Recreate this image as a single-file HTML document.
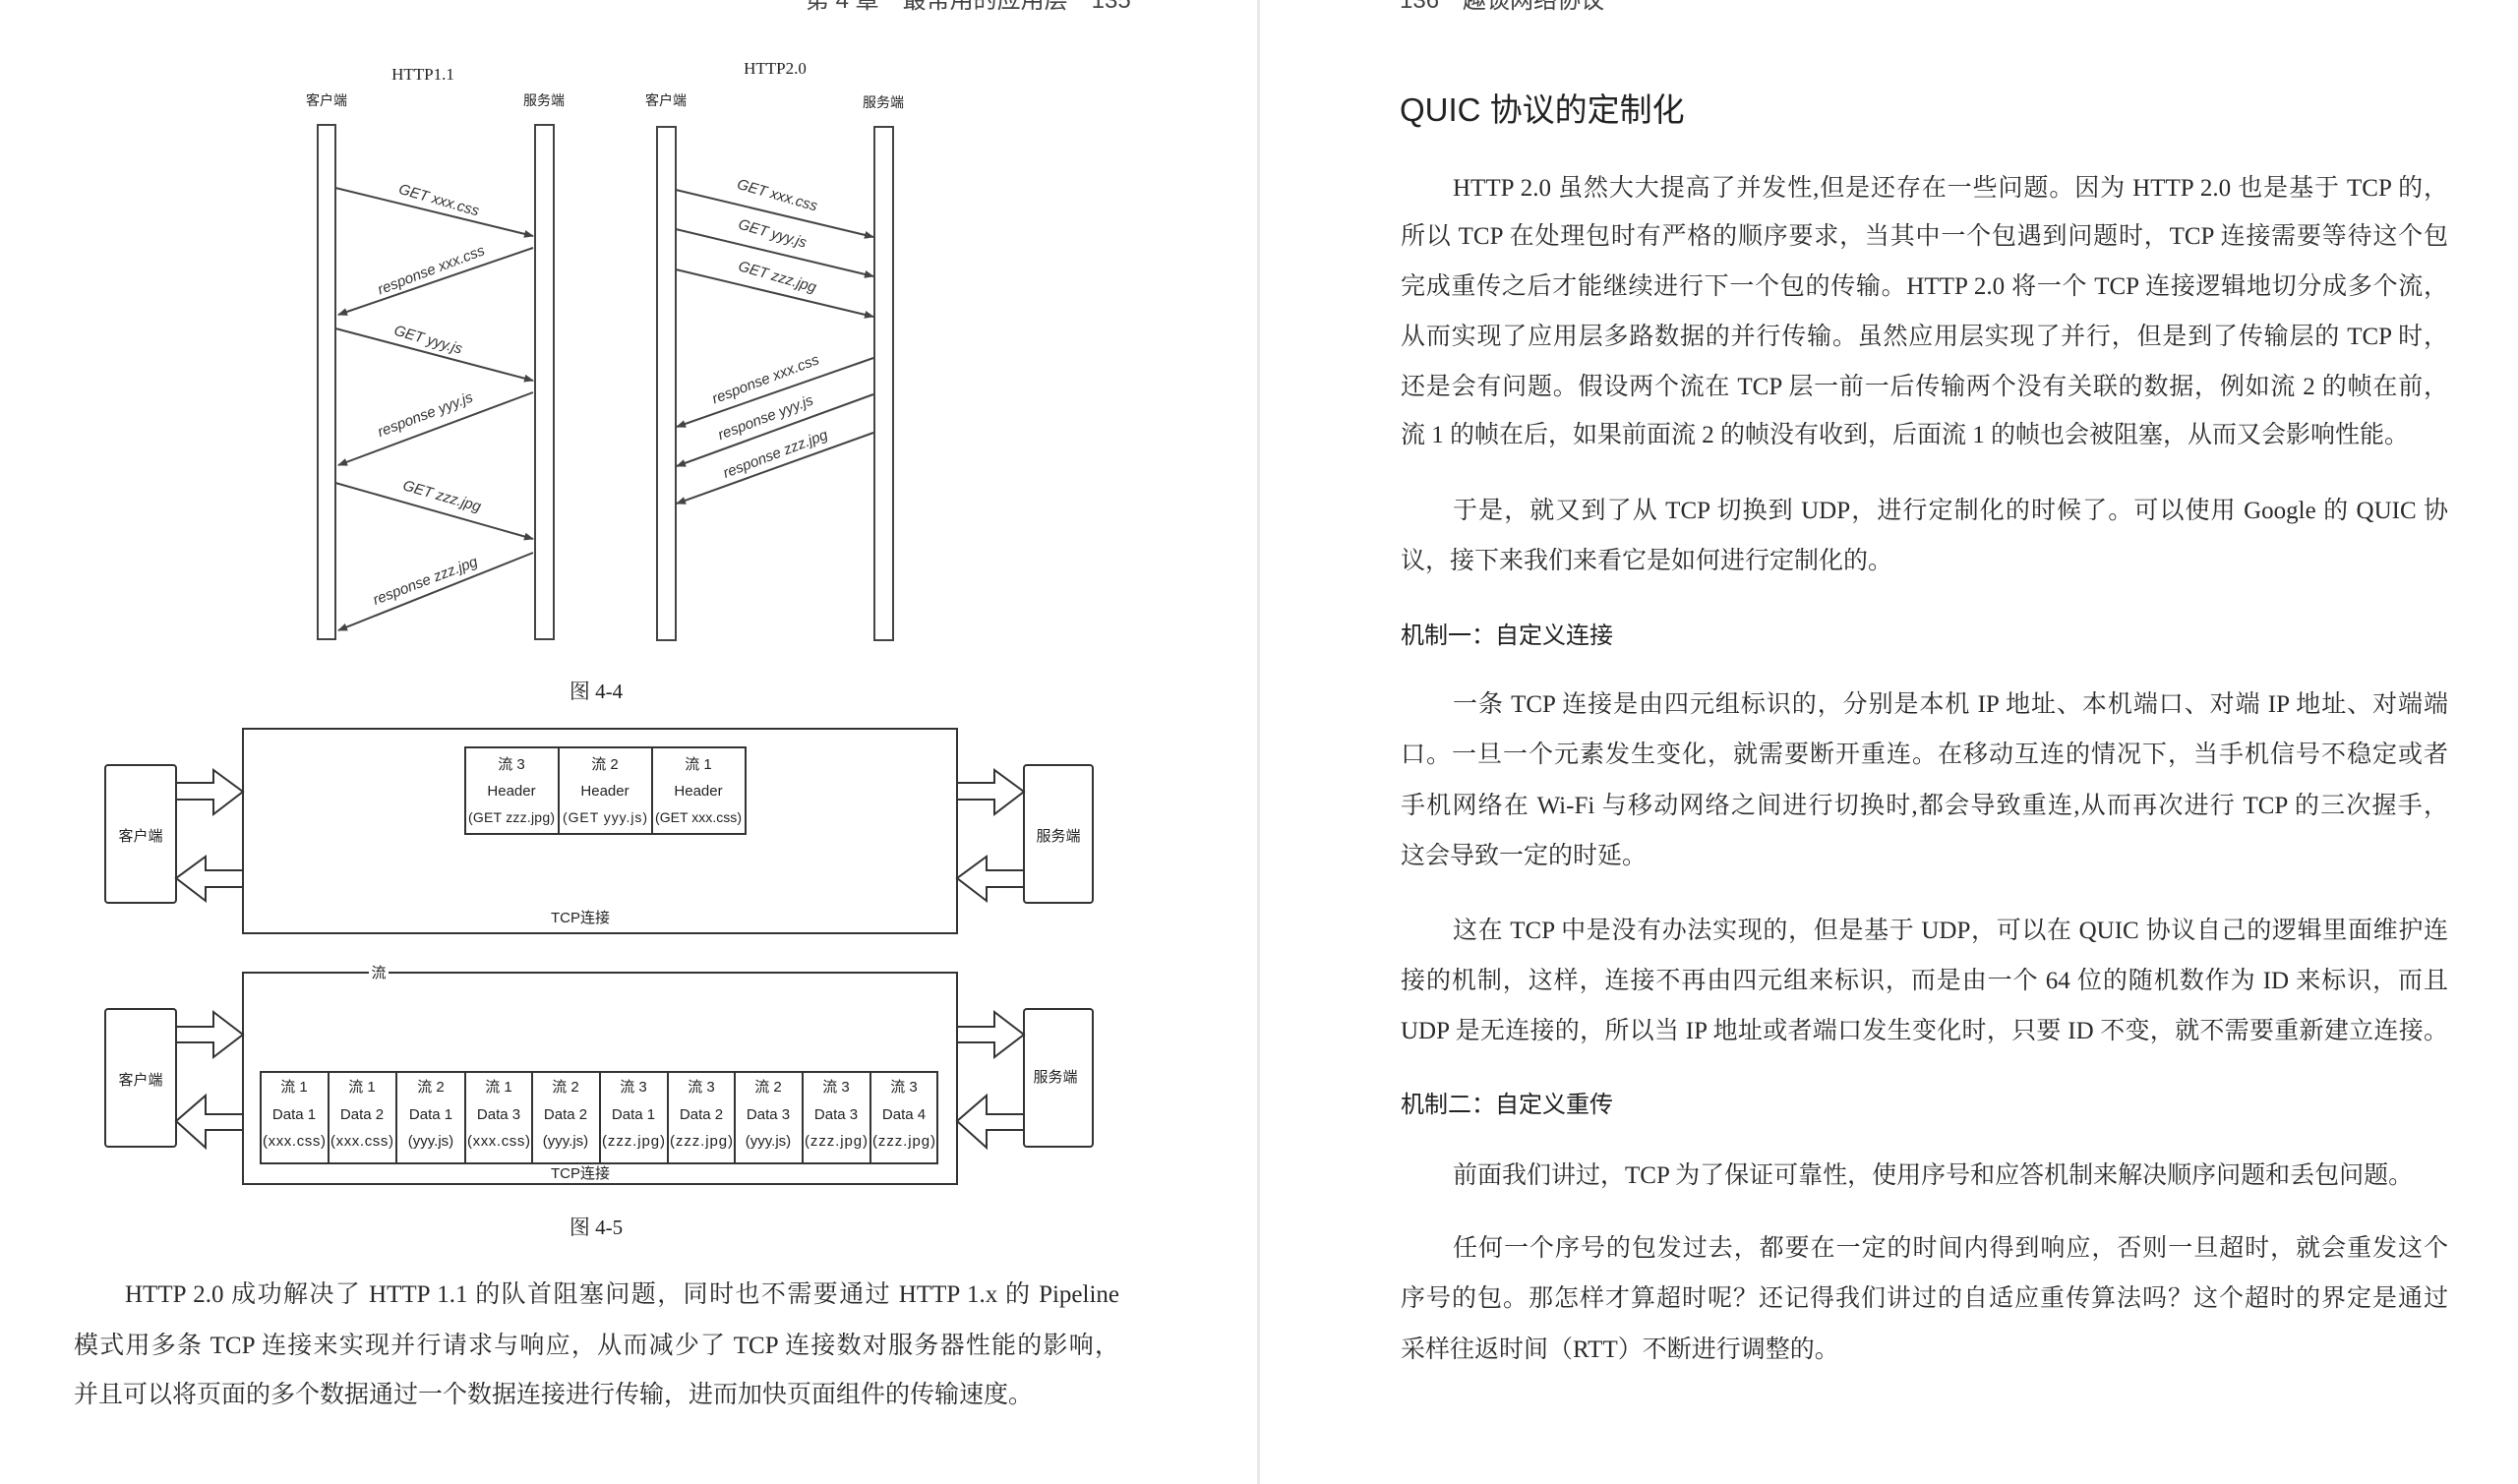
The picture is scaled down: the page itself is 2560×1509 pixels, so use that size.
<!DOCTYPE html>
<html><head><meta charset="utf-8"><style>
body{margin:0;width:2560px;height:1509px;background:#fff;position:relative;overflow:hidden}
.t{position:absolute;font-family:"Liberation Serif","Noto Serif CJK SC",serif;font-size:25px;color:#2a2a2a;line-height:34px;white-space:nowrap}
.j{text-align:justify;text-align-last:justify;white-space:normal}
.h{position:absolute;font-family:"Liberation Sans","Noto Sans CJK SC",sans-serif;color:#222;line-height:34px;white-space:nowrap}
svg{position:absolute;left:0;top:0}
</style></head><body>
<div style="position:absolute;left:1278px;top:0;width:3px;height:1509px;background:#e8e8e8"></div>
<svg width="2560" height="1509" viewBox="0 0 2560 1509" font-family="Liberation Sans,Noto Sans CJK SC,sans-serif" fill="none" stroke="#444">
<defs><marker id="a" markerWidth="10" markerHeight="8" refX="9" refY="4" orient="auto" markerUnits="userSpaceOnUse"><path d="M0,0 L10,4 L0,8 Z" fill="#444" stroke="none"/></marker></defs>
<g stroke-width="2">
<rect x="323" y="127" width="18" height="523"/><rect x="544" y="127" width="19" height="523"/>
<rect x="668" y="129" width="19" height="522"/><rect x="889" y="129" width="19" height="522"/>
</g>
<g stroke-width="2" marker-end="url(#a)">
<line x1="341" y1="191" x2="542" y2="240"/><line x1="542" y1="252" x2="344" y2="320"/>
<line x1="341" y1="334" x2="542" y2="387"/><line x1="542" y1="399" x2="344" y2="473"/>
<line x1="341" y1="491" x2="542" y2="548"/><line x1="542" y1="562" x2="344" y2="641"/>
<line x1="687" y1="193" x2="888" y2="241"/><line x1="687" y1="233" x2="888" y2="281"/>
<line x1="687" y1="274" x2="888" y2="322"/><line x1="888" y1="364" x2="688" y2="434"/>
<line x1="888" y1="401" x2="688" y2="474"/><line x1="888" y1="440" x2="688" y2="512"/>
</g>
<g fill="#333" stroke="none" font-size="15" font-style="italic" text-anchor="middle">
<text transform="translate(445,208) rotate(16)">GET xxx.css</text>
<text transform="translate(440,279) rotate(-21)">response xxx.css</text>
<text transform="translate(434,350) rotate(16)">GET yyy.js</text>
<text transform="translate(434,426) rotate(-21)">response yyy.js</text>
<text transform="translate(448,509) rotate(16)">GET zzz.jpg</text>
<text transform="translate(434,595) rotate(-21)">response zzz.jpg</text>
<text transform="translate(789,203) rotate(16)">GET xxx.css</text>
<text transform="translate(784,242) rotate(16)">GET yyy.js</text>
<text transform="translate(789,286) rotate(16)">GET zzz.jpg</text>
<text transform="translate(780,390) rotate(-21)">response xxx.css</text>
<text transform="translate(780,429) rotate(-21)">response yyy.js</text>
<text transform="translate(790,466) rotate(-21)">response zzz.jpg</text>
</g>
<g fill="#222" stroke="none" text-anchor="middle">
<text x="430" y="81" font-family="Liberation Serif" font-size="17">HTTP1.1</text>
<text x="788" y="75" font-family="Liberation Serif" font-size="17">HTTP2.0</text>
<g font-size="14"><text x="332" y="107">客户端</text><text x="553" y="107">服务端</text><text x="677" y="107">客户端</text><text x="898" y="109">服务端</text></g>
<text x="606" y="710" font-family="Liberation Serif,Noto Serif CJK SC" font-size="21">图 4-4</text>
<text x="606" y="1255" font-family="Liberation Serif,Noto Serif CJK SC" font-size="21">图 4-5</text>
</g>
<g stroke-width="2" stroke="#333">
<rect x="247" y="741" width="726" height="208"/>
<rect x="107" y="778" width="72" height="140" rx="3"/>
<rect x="1041" y="778" width="70" height="140" rx="3"/>
<polygon points="179,796 217,796 217,783 247,805 217,828 217,813 179,813"/>
<polygon points="247,885 209,885 209,871 179,893 209,916 209,902 247,902"/>
<polygon points="973,796 1011,796 1011,783 1041,805 1011,828 1011,813 973,813"/>
<polygon points="1041,885 1003,885 1003,871 973,893 1003,916 1003,902 1041,902"/>
<rect x="473" y="760" width="285" height="88"/>
<line x1="568" y1="760" x2="568" y2="848"/><line x1="663" y1="760" x2="663" y2="848"/>
<rect x="247" y="989" width="726" height="215"/>
<rect x="107" y="1026" width="72" height="140" rx="3"/>
<rect x="1041" y="1026" width="70" height="140" rx="3"/>
<polygon points="179,1044 217,1044 217,1029 247,1052 217,1075 217,1060 179,1060"/>
<polygon points="247,1133 209,1133 209,1114 179,1140 209,1167 209,1149 247,1149"/>
<polygon points="973,1044 1011,1044 1011,1029 1041,1052 1011,1075 1011,1060 973,1060"/>
<polygon points="1041,1133 1003,1133 1003,1114 973,1140 1003,1167 1003,1149 1041,1149"/>
<rect x="265" y="1090" width="688" height="93"/>
<path d="M334 1090V1183M403 1090V1183M473 1090V1183M541 1090V1183M610 1090V1183M679 1090V1183M747 1090V1183M816 1090V1183M885 1090V1183"/>
</g>
<rect x="375" y="980" width="20" height="18" fill="#fff" stroke="none"/>
<g fill="#222" stroke="none" text-anchor="middle" font-size="15">
<text x="143" y="855">客户端</text><text x="1076" y="855">服务端</text>
<text x="143" y="1103">客户端</text><text x="1073" y="1100">服务端</text>
<text x="590" y="938">TCP连接</text><text x="590" y="1198">TCP连接</text>
<text x="385" y="994">流</text>
<text x="520" y="782">流 3</text><text x="520" y="809">Header</text><text x="520" y="836" font-size="14" textLength="88">(GET zzz.jpg)</text>
<text x="615" y="782">流 2</text><text x="615" y="809">Header</text><text x="615" y="836" font-size="14" textLength="86">(GET yyy.js)</text>
<text x="710" y="782">流 1</text><text x="710" y="809">Header</text><text x="710" y="836" font-size="14" textLength="88">(GET xxx.css)</text>
<g font-size="15">
<text x="299" y="1110">流 1</text><text x="299" y="1138">Data 1</text><text x="299" y="1165" font-size="15" textLength="64">(xxx.css)</text>
<text x="368" y="1110">流 1</text><text x="368" y="1138">Data 2</text><text x="368" y="1165" font-size="15" textLength="64">(xxx.css)</text>
<text x="438" y="1110">流 2</text><text x="438" y="1138">Data 1</text><text x="438" y="1165" font-size="15">(yyy.js)</text>
<text x="507" y="1110">流 1</text><text x="507" y="1138">Data 3</text><text x="507" y="1165" font-size="15" textLength="64">(xxx.css)</text>
<text x="575" y="1110">流 2</text><text x="575" y="1138">Data 2</text><text x="575" y="1165" font-size="15">(yyy.js)</text>
<text x="644" y="1110">流 3</text><text x="644" y="1138">Data 1</text><text x="644" y="1165" font-size="15" textLength="64">(zzz.jpg)</text>
<text x="713" y="1110">流 3</text><text x="713" y="1138">Data 2</text><text x="713" y="1165" font-size="15" textLength="64">(zzz.jpg)</text>
<text x="781" y="1110">流 2</text><text x="781" y="1138">Data 3</text><text x="781" y="1165" font-size="15">(yyy.js)</text>
<text x="850" y="1110">流 3</text><text x="850" y="1138">Data 3</text><text x="850" y="1165" font-size="15" textLength="64">(zzz.jpg)</text>
<text x="919" y="1110">流 3</text><text x="919" y="1138">Data 4</text><text x="919" y="1165" font-size="15" textLength="64">(zzz.jpg)</text>
</g></g>
</svg>
<div class="h" style="left:819px;top:-16px;font-size:24px;color:#444">第 4 章　最常用的应用层　135</div>
<div class="h" style="left:1423px;top:-16px;font-size:24px;color:#444">136　趣谈网络协议</div>

<div class="t" style="left:127px;top:1300px;width:1011px" ><div class="j">HTTP 2.0 成功解决了 HTTP 1.1 的队首阻塞问题，同时也不需要通过 HTTP 1.x 的 Pipeline</div></div>
<div class="t j" style="left:75px;top:1352px;width:1063px">模式用多条 TCP 连接来实现并行请求与响应，从而减少了 TCP 连接数对服务器性能的影响，</div>
<div class="t" style="left:75px;top:1402px">并且可以将页面的多个数据通过一个数据连接进行传输，进而加快页面组件的传输速度。</div>

<div class="h" style="left:1423px;top:92px;font-size:33px;line-height:40px">QUIC 协议的定制化</div>
<div class="t j" style="left:1477px;top:175px;width:1012px">HTTP 2.0 虽然大大提高了并发性,但是还存在一些问题。因为 HTTP 2.0 也是基于 TCP 的，</div>
<div class="t j" style="left:1424px;top:224px;width:1065px">所以 TCP 在处理包时有严格的顺序要求，当其中一个包遇到问题时，TCP 连接需要等待这个包</div>
<div class="t j" style="left:1424px;top:275px;width:1065px">完成重传之后才能继续进行下一个包的传输。HTTP 2.0 将一个 TCP 连接逻辑地切分成多个流，</div>
<div class="t j" style="left:1424px;top:326px;width:1065px">从而实现了应用层多路数据的并行传输。虽然应用层实现了并行，但是到了传输层的 TCP 时，</div>
<div class="t j" style="left:1424px;top:377px;width:1065px">还是会有问题。假设两个流在 TCP 层一前一后传输两个没有关联的数据，例如流 2 的帧在前，</div>
<div class="t" style="left:1424px;top:426px">流 1 的帧在后，如果前面流 2 的帧没有收到，后面流 1 的帧也会被阻塞，从而又会影响性能。</div>
<div class="t j" style="left:1477px;top:503px;width:1012px">于是，就又到了从 TCP 切换到 UDP，进行定制化的时候了。可以使用 Google 的 QUIC 协</div>
<div class="t" style="left:1424px;top:554px">议，接下来我们来看它是如何进行定制化的。</div>
<div class="h" style="left:1424px;top:630px;font-size:24px">机制一：自定义连接</div>
<div class="t j" style="left:1477px;top:700px;width:1012px">一条 TCP 连接是由四元组标识的，分别是本机 IP 地址、本机端口、对端 IP 地址、对端端</div>
<div class="t j" style="left:1424px;top:751px;width:1065px">口。一旦一个元素发生变化，就需要断开重连。在移动互连的情况下，当手机信号不稳定或者</div>
<div class="t j" style="left:1424px;top:803px;width:1065px">手机网络在 Wi-Fi 与移动网络之间进行切换时,都会导致重连,从而再次进行 TCP 的三次握手，</div>
<div class="t" style="left:1424px;top:854px">这会导致一定的时延。</div>
<div class="t j" style="left:1477px;top:930px;width:1012px">这在 TCP 中是没有办法实现的，但是基于 UDP，可以在 QUIC 协议自己的逻辑里面维护连</div>
<div class="t j" style="left:1424px;top:981px;width:1065px">接的机制，这样，连接不再由四元组来标识，而是由一个 64 位的随机数作为 ID 来标识，而且</div>
<div class="t j" style="left:1424px;top:1032px;width:1065px">UDP 是无连接的，所以当 IP 地址或者端口发生变化时，只要 ID 不变，就不需要重新建立连接。</div>
<div class="h" style="left:1424px;top:1107px;font-size:24px">机制二：自定义重传</div>
<div class="t" style="left:1477px;top:1179px">前面我们讲过，TCP 为了保证可靠性，使用序号和应答机制来解决顺序问题和丢包问题。</div>
<div class="t j" style="left:1477px;top:1253px;width:1012px">任何一个序号的包发过去，都要在一定的时间内得到响应，否则一旦超时，就会重发这个</div>
<div class="t j" style="left:1424px;top:1304px;width:1065px">序号的包。那怎样才算超时呢？还记得我们讲过的自适应重传算法吗？这个超时的界定是通过</div>
<div class="t" style="left:1424px;top:1356px">采样往返时间（RTT）不断进行调整的。</div>
</body></html>
